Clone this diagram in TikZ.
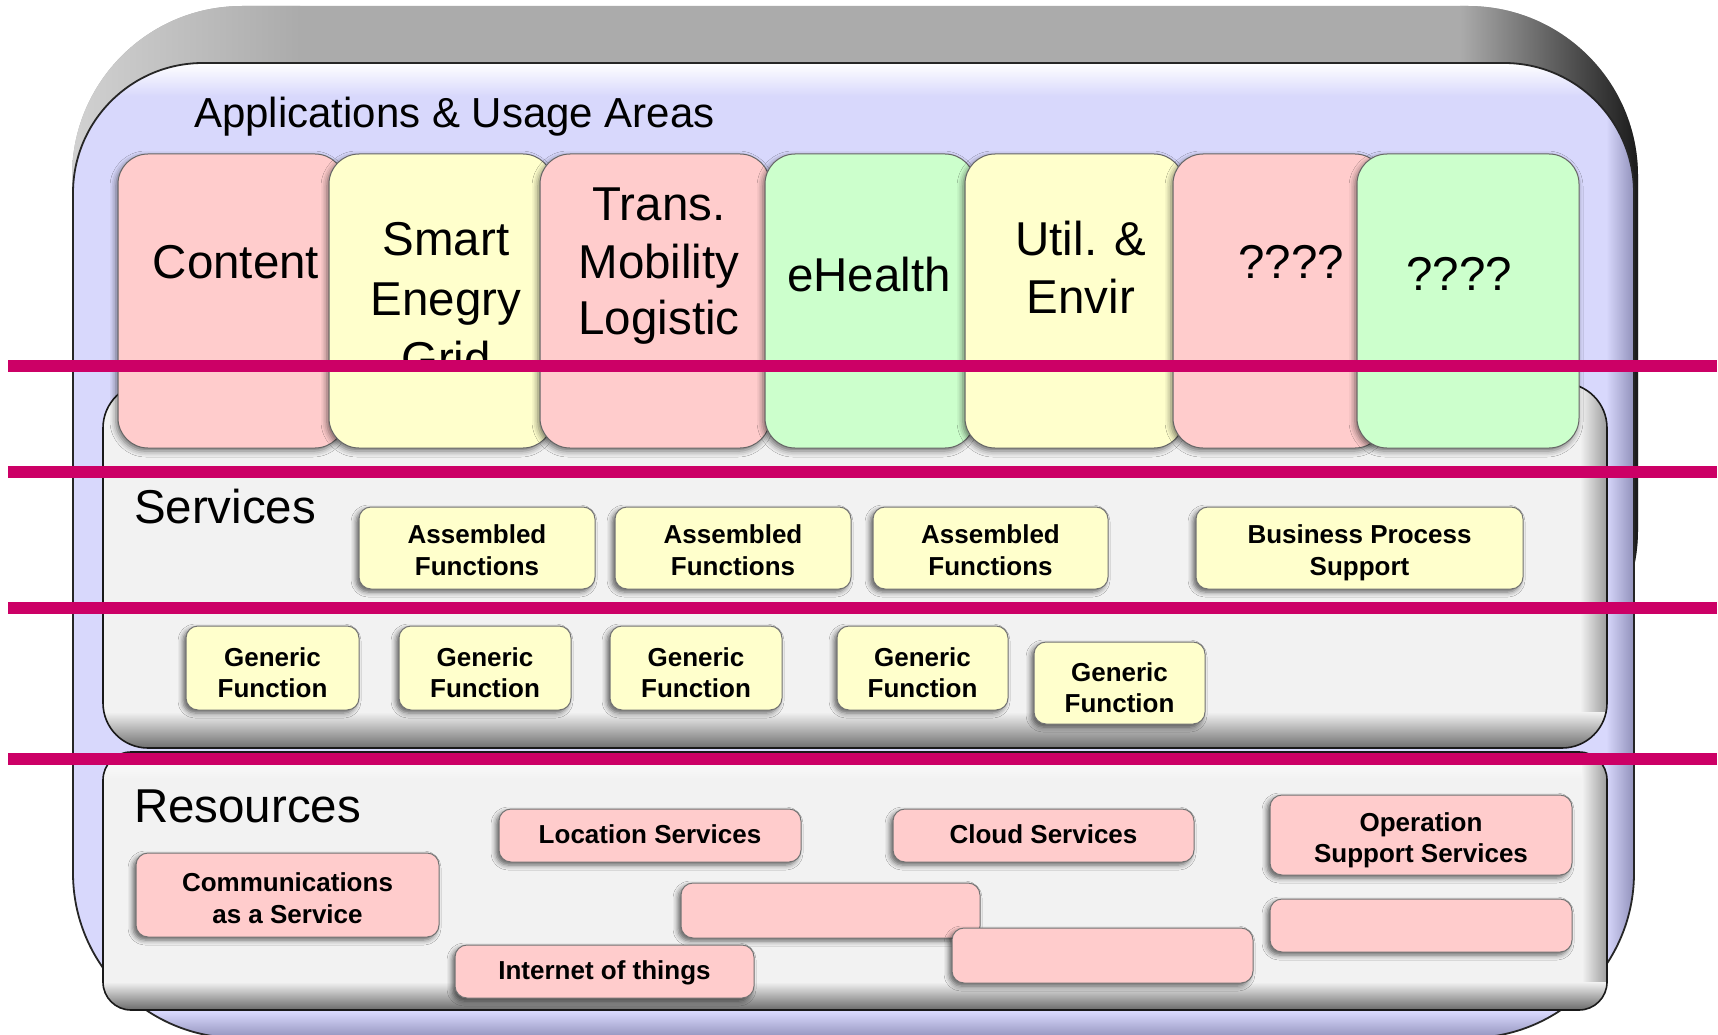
\documentclass[tikz,border=0pt]{standalone}
\usepackage{fontspec}
\setmainfont{Liberation Sans}
\usetikzlibrary{shadows.blur}

\definecolor{lav}{RGB}{216,216,252}
\definecolor{lavdark}{RGB}{140,140,182}
\definecolor{panelgray}{RGB}{242,242,242}
\definecolor{pinkbox}{RGB}{255,204,204}
\definecolor{yellowbox}{RGB}{255,255,204}
\definecolor{greenbox}{RGB}{204,255,204}
\definecolor{rimgray}{RGB}{171,171,171}
\definecolor{magline}{RGB}{204,0,102}

\newcommand\colfont{\fontsize{47.5}{57}\selectfont}
\newcommand\headfont{\fontsize{47.5}{57}\selectfont}
\newcommand\titlefont{\fontsize{42}{50}\selectfont}
\newcommand\boxfont{\fontsize{26}{31}\selectfont\bfseries}

\tikzset{
  every node/.style={inner sep=0pt, outer sep=0pt},
  appcol/.style={rounded corners=30pt, draw=black!60, line width=1pt,
    blur shadow={shadow xshift=-2pt, shadow yshift=-3pt,
                 shadow blur radius=6pt, shadow opacity=55}},
  unitbox/.style={rounded corners=12pt, draw=black!55, line width=1pt,
    blur shadow={shadow xshift=-3pt, shadow yshift=-3pt,
                 shadow blur radius=5pt, shadow opacity=60}},
  coltext/.style={font=\colfont, anchor=base},
  unittext/.style={font=\boxfont, anchor=base},
  headtext/.style={font=\headfont, anchor=base west},
  divider/.style={draw=magline, line width=12pt},
}

% two centred lines of box text, each on its own baseline
\newcommand\twolines[6]{%
  \node[unittext] (#1-a) at (#2,#3) {#5};
  \node[unittext] (#1-b) at (#2,#4) {#6};}

\begin{document}
\begin{tikzpicture}[x=1pt, y=-1pt]
\useasboundingbox (0,0) rectangle (1718,1035);

% raised rim behind the frame
\fill[rimgray, rounded corners=170pt] (72,6) rectangle (1638,700);
\begin{scope}
  \clip[rounded corners=170pt] (72,6) rectangle (1638,700);
  \shade[left color=black!18, right color=rimgray] (72,0) rectangle (300,700);
  \shade[left color=rimgray, right color=black!90] (1460,0) rectangle (1640,700);
\end{scope}

% lavender frame
\fill[lav] (73,193) .. controls (73,121.2) and (131.2,63) .. (203,63)
  -- (1504,63) .. controls (1575.8,63) and (1634,121.2) .. (1634,193)
  -- (1634,873) .. controls (1634,964.1) and (1560.1,1038) .. (1469,1038)
  -- (238,1038) .. controls (146.9,1038) and (73,964.1) .. (73,873) -- cycle;
\begin{scope}
  \clip (73,193) .. controls (73,121.2) and (131.2,63) .. (203,63)
  -- (1504,63) .. controls (1575.8,63) and (1634,121.2) .. (1634,193)
  -- (1634,873) .. controls (1634,964.1) and (1560.1,1038) .. (1469,1038)
  -- (238,1038) .. controls (146.9,1038) and (73,964.1) .. (73,873) -- cycle;
  \shade[top color=white, bottom color=lav] (60,63) rectangle (1650,96);
  \shade[left color=lav, right color=lavdark] (1606,50) rectangle (1636,1040);
  \shade[top color=lav, bottom color=lavdark] (60,1012) rectangle (1650,1040);
\end{scope}
\draw[black!85, line width=1.8pt] (73,193) .. controls (73,121.2) and (131.2,63) .. (203,63)
  -- (1504,63) .. controls (1575.8,63) and (1634,121.2) .. (1634,193)
  -- (1634,873) .. controls (1634,964.1) and (1560.1,1038) .. (1469,1038)
  -- (238,1038) .. controls (146.9,1038) and (73,964.1) .. (73,873) -- cycle;

\node[font=\titlefont, anchor=base west] (apptitle) at (194,128) {Applications \& Usage Areas};

% services panel
\fill[panelgray, rounded corners=45pt] (103,383) rectangle (1607,748);
\begin{scope}
  \clip[rounded corners=45pt] (103,383) rectangle (1607,748);
  \shade[left color=panelgray, right color=black!40] (1580,380) rectangle (1608,750);
  \shade[top color=panelgray, bottom color=black!58] (100,712) rectangle (1610,749);
\end{scope}
\draw[black!90, line width=1.6pt, rounded corners=45pt] (103,383) rectangle (1607,748);

% resources panel
\fill[panelgray, rounded corners=28pt] (103,752) rectangle (1607,1010);
\begin{scope}
  \clip[rounded corners=28pt] (103,752) rectangle (1607,1010);
  \shade[top color=white, bottom color=panelgray] (100,752) rectangle (1610,778);
  \shade[left color=panelgray, right color=black!40] (1582,750) rectangle (1608,1012);
  \shade[top color=panelgray, bottom color=black!60] (100,982) rectangle (1610,1011);
\end{scope}
\draw[black!90, line width=1.6pt, rounded corners=28pt] (103,752) rectangle (1607,1010);

% application areas
\node[appcol, fill=pinkbox, minimum width=227pt, minimum height=294pt] (content) at (231.5,301) {};
\node[coltext] (content-t) at (236,278) {Content};

\node[appcol, fill=yellowbox, minimum width=224pt, minimum height=294pt] (smart) at (441,301) {};
\node[coltext] (smart-a) at (446,255) {Smart};
\node[coltext] (smart-b) at (446,315) {Enegry};
\begin{scope}
  \clip (329,154) rectangle (553,367);
  \node[coltext] (smart-c) at (446,375) {Grid};
\end{scope}

\node[appcol, fill=pinkbox, minimum width=230pt, minimum height=294pt] (trans) at (655,301) {};
\node[coltext] (trans-a) at (659,220) {Trans.};
\node[coltext] (trans-b) at (659,278) {Mobility};
\node[coltext] (trans-c) at (659,334) {Logistic};

\node[appcol, fill=greenbox, minimum width=210pt, minimum height=294pt] (ehealth) at (870,301) {};
\node[coltext] (ehealth-t) at (869,291) {eHealth};

\node[appcol, fill=yellowbox, minimum width=219pt, minimum height=294pt] (util) at (1074.5,301) {};
\node[coltext] (util-a) at (1081,255) {Util. \&};
\node[coltext] (util-b) at (1081,313) {Envir};

\node[appcol, fill=pinkbox, minimum width=212pt, minimum height=294pt] (open1) at (1279,301) {};
\node[coltext] (open1-t) at (1291,278) {????};

\node[appcol, fill=greenbox, minimum width=222pt, minimum height=294pt] (open2) at (1468,301) {};
\node[coltext] (open2-t) at (1459,290) {????};

% layer headings
\node[headtext] (services) at (134,523) {Services};
\node[headtext] (resources) at (134,822) {Resources};

% services: assembled functions
\node[unitbox, fill=yellowbox, minimum width=236pt, minimum height=82pt] (asm1) at (477,548) {};
\twolines{asm1}{477}{543}{575}{Assembled}{Functions}
\node[unitbox, fill=yellowbox, minimum width=236pt, minimum height=82pt] (asm2) at (733,548) {};
\twolines{asm2}{733}{543}{575}{Assembled}{Functions}
\node[unitbox, fill=yellowbox, minimum width=235pt, minimum height=82pt] (asm3) at (990.5,548) {};
\twolines{asm3}{990.5}{543}{575}{Assembled}{Functions}
\node[unitbox, fill=yellowbox, minimum width=327pt, minimum height=82pt] (bps) at (1359.5,548) {};
\twolines{bps}{1359.5}{543}{575}{Business Process}{Support}

% services: generic functions
\node[unitbox, fill=yellowbox, minimum width=173pt, minimum height=84pt] (gen1) at (272.5,668) {};
\twolines{gen1}{272.5}{666}{697}{Generic}{Function}
\node[unitbox, fill=yellowbox, minimum width=172pt, minimum height=84pt] (gen2) at (485,668) {};
\twolines{gen2}{485}{666}{697}{Generic}{Function}
\node[unitbox, fill=yellowbox, minimum width=172pt, minimum height=84pt] (gen3) at (696,668) {};
\twolines{gen3}{696}{666}{697}{Generic}{Function}
\node[unitbox, fill=yellowbox, minimum width=171pt, minimum height=84pt] (gen4) at (922.5,668) {};
\twolines{gen4}{922.5}{666}{697}{Generic}{Function}
\node[unitbox, fill=yellowbox, minimum width=171pt, minimum height=82pt] (gen5) at (1119.5,683) {};
\twolines{gen5}{1119.5}{681}{712}{Generic}{Function}

% resources
\node[unitbox, fill=pinkbox, minimum width=302pt, minimum height=53pt] (loc) at (650,835.5) {};
\node[unittext] (loc-t) at (650,843) {Location Services};
\node[unitbox, fill=pinkbox, minimum width=301pt, minimum height=53pt] (cloud) at (1043.5,835.5) {};
\node[unittext] (cloud-t) at (1043.5,843) {Cloud Services};
\node[unitbox, fill=pinkbox, minimum width=302pt, minimum height=80pt] (ops) at (1421,835) {};
\twolines{ops}{1421}{831}{862}{Operation}{Support Services}
\node[unitbox, fill=pinkbox, minimum width=303pt, minimum height=84pt] (comm) at (287.5,895) {};
\twolines{comm}{287.5}{891}{923}{Communications}{as a Service}
\node[unitbox, fill=pinkbox, minimum width=299pt, minimum height=55pt] (spare1) at (830.5,910.5) {};
\node[unitbox, fill=pinkbox, minimum width=302pt, minimum height=53pt] (spare3) at (1421,925.5) {};
\node[unitbox, fill=pinkbox, minimum width=301pt, minimum height=55pt] (spare2) at (1102.5,955.5) {};
\node[unitbox, fill=pinkbox, minimum width=299pt, minimum height=53pt] (iot) at (604.5,971.5) {};
\node[unittext] (iot-t) at (604.5,979) {Internet of things};

% layer dividers
\coordinate (d1w) at (8,366);   \coordinate (d1e) at (1717,366);
\coordinate (d2w) at (8,471.5); \coordinate (d2e) at (1717,471.5);
\coordinate (d3w) at (8,608);   \coordinate (d3e) at (1717,608);
\coordinate (d4w) at (8,758.5); \coordinate (d4e) at (1717,758.5);
\draw[divider] (d1w) -- (d1e);
\draw[divider] (d2w) -- (d2e);
\draw[divider] (d3w) -- (d3e);
\draw[divider] (d4w) -- (d4e);
\end{tikzpicture}
\end{document}
